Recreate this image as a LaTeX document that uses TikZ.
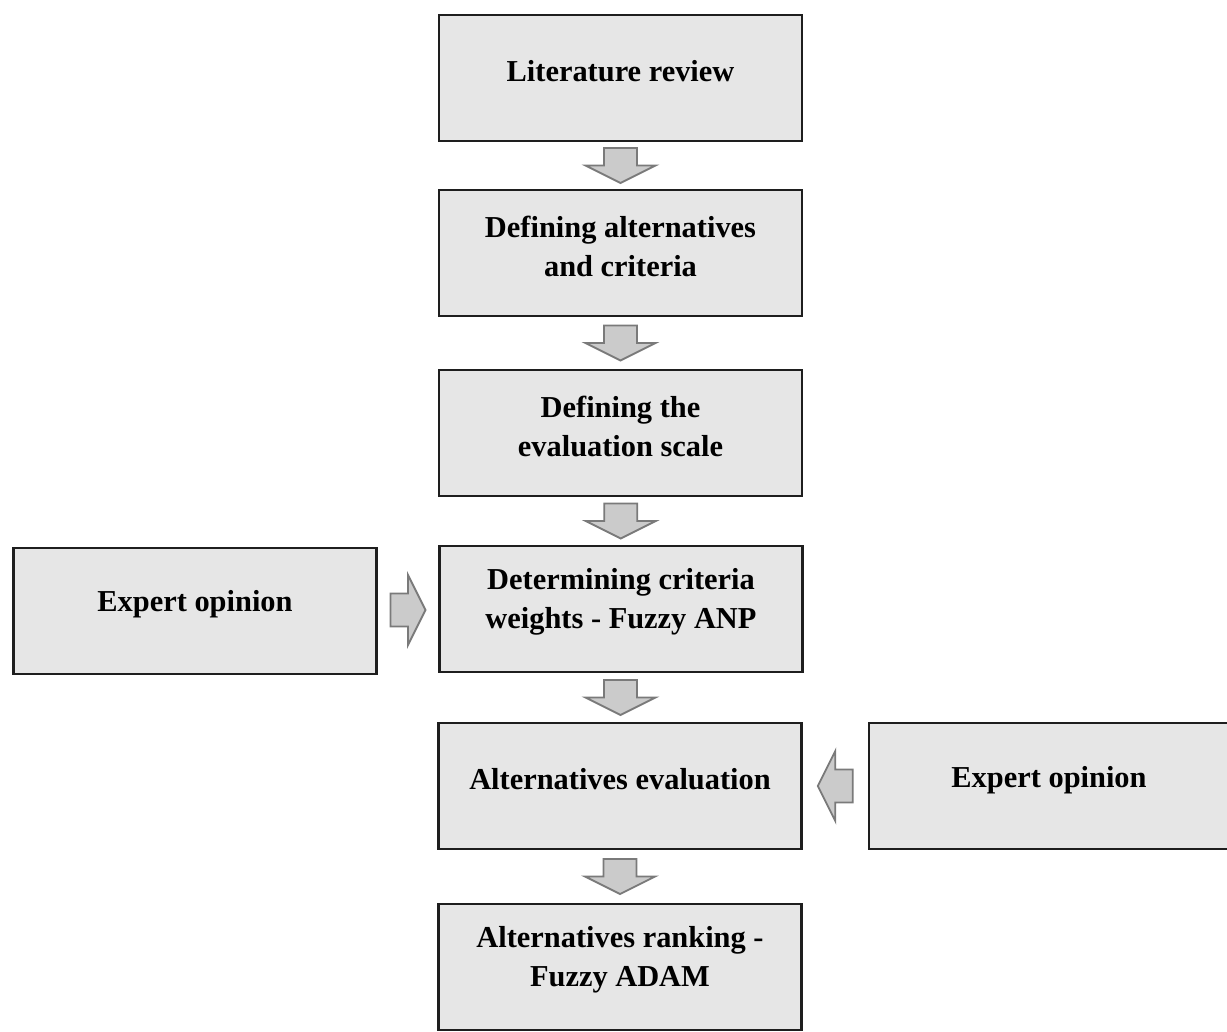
\documentclass[tikz,border=0pt]{standalone}
\usepackage{fontspec}
\setmainfont{Liberation Serif}
\usetikzlibrary{calc}
\definecolor{boxfill}{HTML}{E6E6E6}
\definecolor{boxline}{HTML}{1E1E1E}
\definecolor{arrfill}{HTML}{CBCBCB}
\definecolor{arrline}{HTML}{7A7A7A}
\tikzset{
  stagetext/.style={align=center, inner sep=0pt, yshift=3.5pt,
    font=\fontsize{15.2}{19.5}\selectfont\bfseries},
  stagebox/.style={draw=boxline, fill=boxfill, line width=1.1pt, rectangle,
    minimum width=181.5pt, minimum height=63pt, inner sep=0pt},
  blockarrow/.pic={
    \draw[draw=arrline, fill=arrfill, line width=0.9pt, line join=miter]
      (-16.5,-17.5) -- (16.5,-17.5) -- (16.5,0) -- (35,0) -- (0,17.5)
      -- (-35,0) -- (-16.5,0) -- cycle;
  }
}
\begin{document}
\begin{tikzpicture}[x=0.5pt, y=-0.5pt]
\useasboundingbox (0,0) rectangle (1227,1032);
\clip (0,0) rectangle (1227,1032);
\fill[white] (0,0) rectangle (1227,1032);
\node[stagebox, label={[stagetext]center:Literature review}] (lit) at (620.5, 78) {};
\node[stagebox, label={[stagetext]center:Defining alternatives\\and criteria}] (def) at (620.5, 253) {};
\node[stagebox, label={[stagetext]center:Defining the\\evaluation scale}] (scale) at (620.5, 433) {};
\node[stagebox, label={[stagetext]center:Determining criteria\\weights - Fuzzy ANP}] (anp) at (621, 609) {};
\node[stagebox, label={[stagetext]center:Alternatives evaluation}] (eval) at (620, 786) {};
\node[stagebox, label={[stagetext]center:Alternatives ranking -\\Fuzzy ADAM}] (rank) at (620, 967) {};
\node[stagebox, label={[stagetext]center:Expert opinion}] (expL) at (195, 611) {};
\node[stagebox, minimum width=190pt, anchor=west] (expR) at (868, 786) {};
\node[stagetext, yshift=-0.5pt] (expRt) at (1049, 786) {Expert opinion};
\pic at ($(lit.south)!0.5!(def.north)$) {blockarrow};
\pic at ($(def.south)!0.5!(scale.north)$) {blockarrow};
\pic at ($(scale.south)!0.5!(anp.north)$) {blockarrow};
\pic at ($(anp.south)!0.5!(eval.north)$) {blockarrow};
\pic at ($(eval.south)!0.5!(rank.north)$) {blockarrow};
\pic[rotate=90] at ($(expL.east)!0.5!(anp.west)$) {blockarrow};
\pic[rotate=-90] at ($(eval.east)!0.5!(expR.west)$) {blockarrow};
\end{tikzpicture}
\end{document}
